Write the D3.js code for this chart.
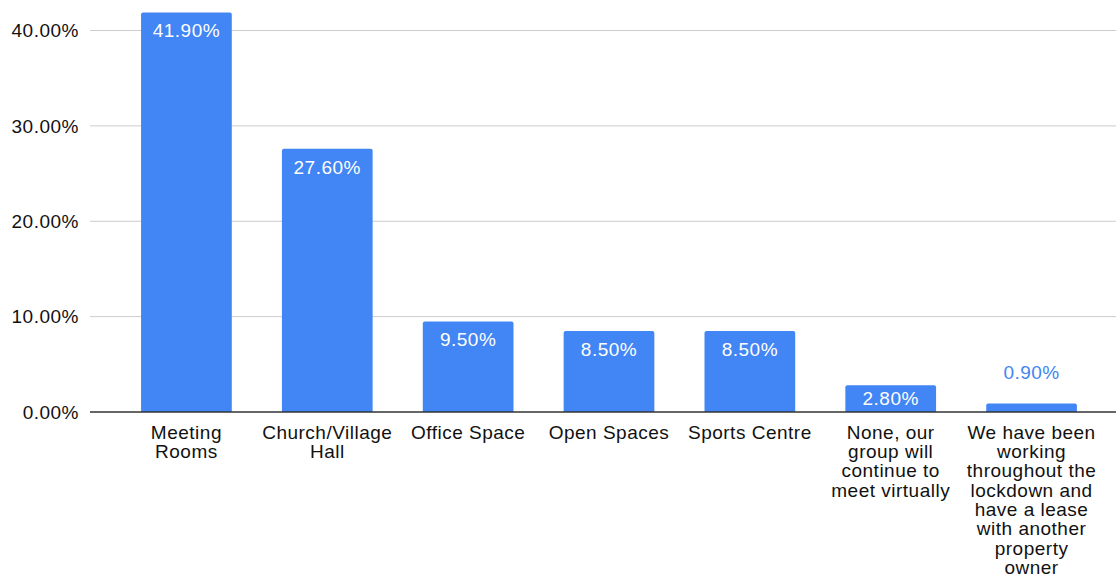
<!DOCTYPE html>
<html>
<head>
<meta charset="utf-8">
<script src="https://cdn.jsdelivr.net/npm/d3@7"></script>
<style>
  body { margin: 0; background: #fff; }
  svg { display: block; font-family: "Liberation Sans", Arial, sans-serif; }
  text { letter-spacing: 0.5px; }
</style>
</head>
<body>
<svg id="chart" width="1116" height="577"></svg>
<script>
// Chart data
const categories = [
    "Meeting\nRooms",
    "Church/Village\nHall",
    "Office Space",
    "Open Spaces",
    "Sports Centre",
    "None, our\ngroup will\ncontinue to\nmeet virtually",
    "We have been\nworking\nthroughout the\nlockdown and\nhave a lease\nwith another\nproperty\nowner"
];
const values = [41.9, 27.6, 9.5, 8.5, 8.5, 2.8, 0.9];
const yTicks = [0, 10, 20, 30, 40];

const fontSize = 19;
const svg = d3.select('#chart');

const x = d3.scaleBand()
    .domain(categories)
    .range([116, 1102])
    .paddingInner(0.356)
    .paddingOuter(0.178);

const y = d3.scaleLinear()
    .domain([0, 40])
    .range([412, 30.5]);

// Gridlines + tick labels
const grid = svg.append('g');
grid.selectAll('line')
    .data(yTicks.filter(t => t > 0))
    .enter().append('line')
    .attr('x1', 90)
    .attr('x2', 1116)
    .attr('y1', d => y(d))
    .attr('y2', d => y(d))
    .attr('stroke', '#cccccc')
    .attr('stroke-width', 1);

grid.selectAll('text')
    .data(yTicks)
    .enter().append('text')
    .attr('x', 79)
    .attr('y', d => y(d))
    .attr('dy', '0.36em')
    .attr('text-anchor', 'end')
    .attr('font-size', fontSize)
    .attr('fill', '#111')
    .text(d => d.toFixed(2) + '%');

// Bars (slightly rounded top corners)
const r = 2;
svg.append('g')
    .selectAll('path')
    .data(values)
    .enter().append('path')
    .attr('fill', '#4285f4')
    .attr('d', (d, i) => {
        const x0 = x(categories[i]);
        const x1 = x0 + x.bandwidth();
        const top = y(d);
        const bot = y(0);
        return `M${x0},${bot}L${x0},${top + r}Q${x0},${top} ${x0 + r},${top}` +
               `L${x1 - r},${top}Q${x1},${top} ${x1},${top + r}L${x1},${bot}Z`;
    });

// Baseline
svg.append('line')
    .attr('x1', 90)
    .attr('x2', 1116)
    .attr('y1', y(0))
    .attr('y2', y(0))
    .attr('stroke', '#333')
    .attr('stroke-width', 1.5);

// Value labels
svg.append('g')
    .selectAll('text')
    .data(values)
    .enter().append('text')
    .attr('x', (d, i) => x(categories[i]) + x.bandwidth() / 2)
    .attr('y', d => {
        const h = y(0) - y(d);
        if (h >= 36) return y(d) + 18;
        if (h >= 20) return y(d) + h / 2;
        return y(d) - 31;
    })
    .attr('dy', '0.36em')
    .attr('text-anchor', 'middle')
    .attr('font-size', fontSize)
    .attr('fill', d => (y(0) - y(d) >= 20 ? '#ffffff' : '#4285f4'))
    .text(d => d.toFixed(2) + '%');

// Category labels
const cat = svg.append('g')
    .selectAll('text')
    .data(categories)
    .enter().append('text')
    .attr('x', d => x(d) + x.bandwidth() / 2)
    .attr('y', 432)
    .attr('text-anchor', 'middle')
    .attr('font-size', fontSize)
    .attr('fill', '#111');

cat.each(function(d) {
    const t = d3.select(this);
    d.split('\n').forEach((line, j) => {
        t.append('tspan')
            .attr('x', x(d) + x.bandwidth() / 2)
            .attr('y', 432 + j * 19.3)
            .attr('dy', '0.36em')
            .text(line);
    });
});
</script>
</body>
</html>
